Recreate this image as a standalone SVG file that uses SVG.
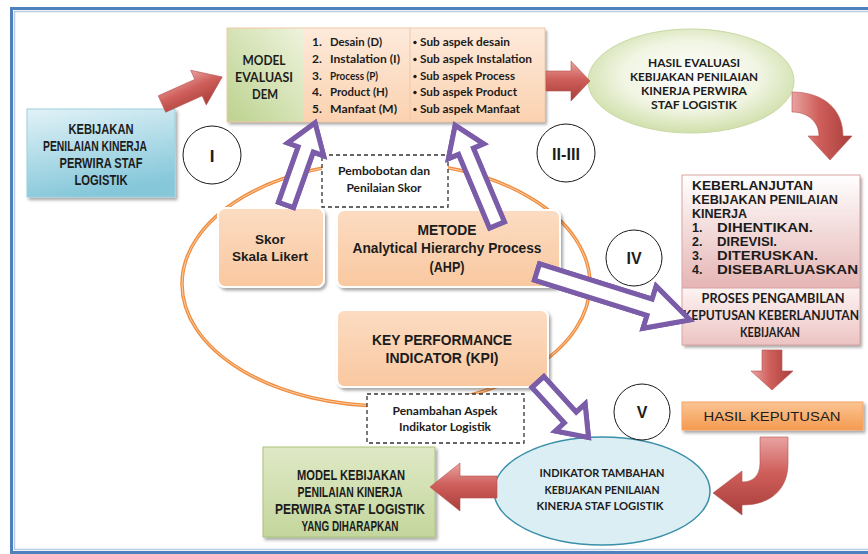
<svg xmlns="http://www.w3.org/2000/svg" xmlns:xlink="http://www.w3.org/1999/xlink" width="868" height="554" viewBox="0 0 868 554">
  <defs>
    <style>
      .cal { font-family: "Lato", "Open Sans", sans-serif; font-weight: bold; fill: #1c1c1c; }
      .ari { font-family: "Liberation Sans", Arial, sans-serif; font-weight: bold; fill: #1c1c1c; }
      .arn { font-family: "Liberation Sans", Arial, sans-serif; fill: #1c1c1c; }
      .nar { font-family: "Liberation Sans Narrow", "Liberation Sans", sans-serif; font-weight: bold; fill: #1c1c1c; }
      .mid { text-anchor: middle; }
      .circ { fill: #ffffff; stroke: #1a1a1a; stroke-width: 1; }
      .dash { fill: #ffffff; stroke: #333333; stroke-width: 1.3; stroke-dasharray: 4 3; }
      .peach { fill: url(#gPeach); stroke: #ffffff; stroke-width: 2; filter: url(#shadow); }
      .red { stroke: #b5524f; stroke-width: 0.6; }
      .purp { fill: #ffffff; stroke: #7a5ca8; stroke-width: 5; stroke-linejoin: miter; }
      .purpIn { fill: none; stroke: #ffffff; stroke-width: 1.5; stroke-linejoin: miter; }
    </style>
    <filter id="shadow" x="-10%" y="-10%" width="125%" height="130%">
      <feDropShadow dx="2" dy="2.5" stdDeviation="1.5" flood-color="#000000" flood-opacity="0.35"/>
    </filter>
    <linearGradient id="gBlue" x1="0" y1="0" x2="0.3" y2="1">
      <stop offset="0" stop-color="#e2f2f7"/>
      <stop offset="1" stop-color="#86c8da"/>
    </linearGradient>
    <linearGradient id="gGreen" x1="1" y1="0" x2="0" y2="1">
      <stop offset="0" stop-color="#eef3dc"/>
      <stop offset="1" stop-color="#bcd28f"/>
    </linearGradient>
    <linearGradient id="gDemPeach" x1="0" y1="0" x2="0" y2="1">
      <stop offset="0" stop-color="#fdeadb"/>
      <stop offset="1" stop-color="#fbd2b0"/>
    </linearGradient>
    <linearGradient id="gPeach" x1="0" y1="0" x2="0" y2="1">
      <stop offset="0" stop-color="#fcdcc2"/>
      <stop offset="1" stop-color="#f9c8a0"/>
    </linearGradient>
    <radialGradient id="gEval" cx="0.5" cy="0.45" r="0.6">
      <stop offset="0" stop-color="#ffffff"/>
      <stop offset="0.55" stop-color="#f1f5e3"/>
      <stop offset="1" stop-color="#c9db9f"/>
    </radialGradient>
    <linearGradient id="gPink" x1="0" y1="0" x2="0" y2="1">
      <stop offset="0" stop-color="#ffffff"/>
      <stop offset="1" stop-color="#e5b5b4"/>
    </linearGradient>
    <linearGradient id="gPink2" x1="0" y1="0" x2="0" y2="1">
      <stop offset="0" stop-color="#fdf3f3"/>
      <stop offset="1" stop-color="#ecc3c2"/>
    </linearGradient>
    <linearGradient id="gOrange" x1="0" y1="0" x2="0" y2="1">
      <stop offset="0" stop-color="#fbc493"/>
      <stop offset="1" stop-color="#f59a50"/>
    </linearGradient>
    <linearGradient id="gOlive" x1="0" y1="0" x2="0" y2="1">
      <stop offset="0" stop-color="#dfe9c6"/>
      <stop offset="1" stop-color="#c4d69c"/>
    </linearGradient>
    <linearGradient id="gRed" x1="0" y1="0" x2="0" y2="1">
      <stop offset="0" stop-color="#e8a3a1"/>
      <stop offset="0.45" stop-color="#cf5f5b"/>
      <stop offset="1" stop-color="#a83d3a"/>
    </linearGradient>
    <linearGradient id="gRedV" x1="0" y1="0" x2="1" y2="0">
      <stop offset="0" stop-color="#e8a3a1"/>
      <stop offset="0.45" stop-color="#cf5f5b"/>
      <stop offset="1" stop-color="#a83d3a"/>
    </linearGradient>
  </defs>

  <!-- page frame -->
  <rect x="11.5" y="8.5" width="870" height="544" fill="#ffffff" stroke="#4f81bd" stroke-width="3"/>
  <rect x="14.5" y="11.5" width="870" height="538" fill="none" stroke="#b8cce4" stroke-width="1.5"/>

  <!-- orange ring round the method boxes -->
  <ellipse cx="386" cy="284" rx="204" ry="122" fill="none" stroke="#f08c3e" stroke-width="3.5"/>
  <ellipse cx="386" cy="284" rx="204" ry="122" fill="none" stroke="#fbd0a8" stroke-width="1"/>

  <!-- nodes -->
  <g id="kebijakan">
    <rect x="27" y="109" width="148" height="88" fill="url(#gBlue)" stroke="#9ccfdd" stroke-width="1" filter="url(#shadow)"/>
    <text class="nar mid" font-size="14" x="101" y="134" textLength="65" lengthAdjust="spacingAndGlyphs">KEBIJAKAN</text>
    <text class="nar mid" font-size="14" x="95" y="151" textLength="104" lengthAdjust="spacingAndGlyphs">PENILAIAN KINERJA</text>
    <text class="nar mid" font-size="14" x="101" y="168" textLength="83" lengthAdjust="spacingAndGlyphs">PERWIRA STAF</text>
    <text class="nar mid" font-size="14" x="101" y="185" textLength="53" lengthAdjust="spacingAndGlyphs">LOGISTIK</text>
  </g>

  <g id="model-dem">
    <g filter="url(#shadow)">
      <rect x="227" y="28" width="76" height="94" fill="url(#gGreen)"/>
      <rect x="303" y="28" width="242" height="94" fill="url(#gDemPeach)"/>
    </g>
    <rect x="227" y="28" width="318" height="94" fill="none" stroke="#f2c9a6" stroke-width="1"/>
    <line x1="410" y1="28" x2="410" y2="122" stroke="#f0c8a8" stroke-width="1"/>
    <text class="cal mid" font-size="13" x="264" y="65" textLength="43" lengthAdjust="spacingAndGlyphs">MODEL</text>
    <text class="cal mid" font-size="13" x="264" y="82" textLength="58" lengthAdjust="spacingAndGlyphs">EVALUASI</text>
    <text class="cal mid" font-size="13" x="265" y="99" textLength="26" lengthAdjust="spacingAndGlyphs">DEM</text>
    <g class="cal" font-size="12">
      <text x="312" y="46">1.</text><text x="330" y="46" textLength="52" lengthAdjust="spacingAndGlyphs">Desain (D)</text>
      <text x="312" y="63">2.</text><text x="330" y="63" textLength="70" lengthAdjust="spacingAndGlyphs">Instalation (I)</text>
      <text x="312" y="80">3.</text><text x="330" y="80" textLength="48" lengthAdjust="spacingAndGlyphs">Process (P)</text>
      <text x="312" y="96">4.</text><text x="330" y="96" textLength="58" lengthAdjust="spacingAndGlyphs">Product (H)</text>
      <text x="312" y="113">5.</text><text x="330" y="113" textLength="67" lengthAdjust="spacingAndGlyphs">Manfaat (M)</text>
    </g>
    <g fill="#1c1c1c">
      <circle cx="415" cy="42.5" r="1.7"/>
      <circle cx="415" cy="59.5" r="1.7"/>
      <circle cx="415" cy="76.5" r="1.7"/>
      <circle cx="415" cy="92.5" r="1.7"/>
      <circle cx="415" cy="109.5" r="1.7"/>
    </g>
    <g class="cal" font-size="11.5">
      <text x="420" y="46" textLength="90" lengthAdjust="spacingAndGlyphs">Sub aspek desain</text>
      <text x="420" y="63" textLength="112" lengthAdjust="spacingAndGlyphs">Sub aspek Instalation</text>
      <text x="420" y="80" textLength="95" lengthAdjust="spacingAndGlyphs">Sub aspek Process</text>
      <text x="420" y="96" textLength="97" lengthAdjust="spacingAndGlyphs">Sub aspek Product</text>
      <text x="420" y="113" textLength="100" lengthAdjust="spacingAndGlyphs">Sub aspek Manfaat</text>
    </g>
  </g>

  <g id="hasil-evaluasi">
    <ellipse cx="691" cy="81" rx="103" ry="52" fill="url(#gEval)" stroke="#c8d9a4" stroke-width="1"/>
    <text class="cal mid" font-size="12" x="694" y="67" textLength="92" lengthAdjust="spacingAndGlyphs">HASIL EVALUASI</text>
    <text class="cal mid" font-size="12" x="694" y="81" textLength="128" lengthAdjust="spacingAndGlyphs">KEBIJAKAN PENILAIAN</text>
    <text class="cal mid" font-size="12" x="694" y="95" textLength="106" lengthAdjust="spacingAndGlyphs">KINERJA PERWIRA</text>
    <text class="cal mid" font-size="12" x="694" y="109" textLength="86" lengthAdjust="spacingAndGlyphs">STAF LOGISTIK</text>
  </g>

  <g id="keberlanjutan">
    <g filter="url(#shadow)">
      <rect x="682" y="175" width="178" height="113" fill="url(#gPink)"/>
      <rect x="682" y="288" width="178" height="57" fill="url(#gPink2)"/>
    </g>
    <rect x="682" y="175" width="178" height="170" fill="none" stroke="#d9a3a2" stroke-width="1"/>
    <line x1="682" y1="288" x2="860" y2="288" stroke="#d9a3a2" stroke-width="1"/>
    <g class="ari" font-size="12.5">
      <text x="692" y="190" textLength="121" lengthAdjust="spacingAndGlyphs">KEBERLANJUTAN</text>
      <text x="692" y="204" textLength="146" lengthAdjust="spacingAndGlyphs">KEBIJAKAN PENILAIAN</text>
      <text x="692" y="218" textLength="55" lengthAdjust="spacingAndGlyphs">KINERJA</text>
      <text x="692" y="232">1.</text><text x="717" y="232" textLength="96" lengthAdjust="spacingAndGlyphs">DIHENTIKAN.</text>
      <text x="692" y="246">2.</text><text x="717" y="246" textLength="60" lengthAdjust="spacingAndGlyphs">DIREVISI.</text>
      <text x="692" y="260">3.</text><text x="717" y="260" textLength="101" lengthAdjust="spacingAndGlyphs">DITERUSKAN.</text>
      <text x="692" y="274">4.</text><text x="717" y="274" textLength="141" lengthAdjust="spacingAndGlyphs">DISEBARLUASKAN</text>
    </g>
    <text class="cal mid" font-size="12.5" x="773" y="303" textLength="143" lengthAdjust="spacingAndGlyphs">PROSES PENGAMBILAN</text>
    <text class="cal mid" font-size="12.5" x="771" y="320" textLength="176" lengthAdjust="spacingAndGlyphs">KEPUTUSAN KEBERLANJUTAN</text>
    <text class="cal mid" font-size="12.5" x="770" y="337" textLength="60" lengthAdjust="spacingAndGlyphs">KEBIJAKAN</text>
  </g>

  <g id="hasil-keputusan">
    <rect x="682" y="402" width="181" height="28" fill="url(#gOrange)" stroke="#f3a466" stroke-width="1" filter="url(#shadow)"/>
    <text class="arn mid" font-size="13.5" x="772" y="421" textLength="137" lengthAdjust="spacingAndGlyphs">HASIL KEPUTUSAN</text>
  </g>

  <g id="indikator-tambahan">
    <ellipse cx="602" cy="491" rx="108" ry="54" fill="#dbeef4" stroke="#3a8fa8" stroke-width="1.5"/>
    <text class="cal mid" font-size="12" x="602" y="477" textLength="125" lengthAdjust="spacingAndGlyphs">INDIKATOR TAMBAHAN</text>
    <text class="cal mid" font-size="12" x="602" y="494" textLength="115" lengthAdjust="spacingAndGlyphs">KEBIJAKAN PENILAIAN</text>
    <text class="cal mid" font-size="12" x="600" y="510" textLength="127" lengthAdjust="spacingAndGlyphs">KINERJA STAF LOGISTIK</text>
  </g>

  <g id="model-kebijakan">
    <rect x="263" y="447" width="172" height="90" fill="url(#gOlive)" stroke="#a9c27a" stroke-width="1" filter="url(#shadow)"/>
    <text class="nar mid" font-size="14" x="351" y="480" textLength="108" lengthAdjust="spacingAndGlyphs">MODEL KEBIJAKAN</text>
    <text class="nar mid" font-size="14" x="350" y="497" textLength="105" lengthAdjust="spacingAndGlyphs">PENILAIAN KINERJA</text>
    <text class="nar mid" font-size="14" x="350" y="514" textLength="150" lengthAdjust="spacingAndGlyphs">PERWIRA STAF LOGISTIK</text>
    <text class="nar mid" font-size="14" x="350" y="531" textLength="97" lengthAdjust="spacingAndGlyphs">YANG DIHARAPKAN</text>
  </g>

  <g id="skor-likert">
    <rect class="peach" x="218" y="208" width="106" height="79" rx="7"/>
    <text class="ari mid" font-size="13.5" x="270" y="244" textLength="30" lengthAdjust="spacingAndGlyphs">Skor</text>
    <text class="ari mid" font-size="13.5" x="270" y="261" textLength="76" lengthAdjust="spacingAndGlyphs">Skala Likert</text>
  </g>

  <g id="metode-ahp">
    <rect class="peach" x="337" y="210" width="223" height="77" rx="7"/>
    <text class="ari mid" font-size="13.8" x="447" y="235" textLength="59" lengthAdjust="spacingAndGlyphs">METODE</text>
    <text class="ari mid" font-size="13.8" x="447" y="253" textLength="189" lengthAdjust="spacingAndGlyphs">Analytical Hierarchy Process</text>
    <text class="ari mid" font-size="13.8" x="447" y="272" textLength="35" lengthAdjust="spacingAndGlyphs">(AHP)</text>
  </g>

  <g id="kpi">
    <rect class="peach" x="337" y="310" width="211" height="77" rx="7"/>
    <text class="ari mid" font-size="13.8" x="442" y="345" textLength="140" lengthAdjust="spacingAndGlyphs">KEY PERFORMANCE</text>
    <text class="ari mid" font-size="13.8" x="442" y="363" textLength="113" lengthAdjust="spacingAndGlyphs">INDICATOR (KPI)</text>
  </g>

  <g id="pembobotan">
    <rect class="dash" x="322" y="155" width="126" height="52"/>
    <text class="cal mid" font-size="11.5" x="384" y="175" textLength="92" lengthAdjust="spacingAndGlyphs">Pembobotan dan</text>
    <text class="cal mid" font-size="11.5" x="384" y="192" textLength="75" lengthAdjust="spacingAndGlyphs">Penilaian Skor</text>
  </g>

  <g id="penambahan">
    <rect class="dash" x="367" y="394" width="157" height="49"/>
    <text class="cal mid" font-size="11.5" x="445" y="415" textLength="105" lengthAdjust="spacingAndGlyphs">Penambahan Aspek</text>
    <text class="cal mid" font-size="11.5" x="445" y="431" textLength="92" lengthAdjust="spacingAndGlyphs">Indikator Logistik</text>
  </g>

  <g id="step-I">
    <circle class="circ" cx="212" cy="155" r="29"/>
    <text class="nar mid" font-size="17" x="212" y="162">I</text>
  </g>
  <g id="step-II-III">
    <circle class="circ" cx="566" cy="153" r="29"/>
    <text class="nar mid" font-size="16" x="566" y="160" textLength="28" lengthAdjust="spacingAndGlyphs">II-III</text>
  </g>
  <g id="step-IV">
    <circle class="circ" cx="634" cy="258" r="28"/>
    <text class="nar mid" font-size="16" x="634" y="264">IV</text>
  </g>
  <g id="step-V">
    <circle class="circ" cx="642" cy="412" r="28"/>
    <text class="nar mid" font-size="16" x="642" y="418">V</text>
  </g>

  <!-- connectors -->
  <g id="connectors">
    <!-- block arrows, red -->
    <path class="red" fill="url(#gRed)" transform="translate(162,104) rotate(-24.2)" d="M0,-9 L40,-9 L40,-19 L66,0 L40,19 L40,9 L0,9 Z"/>
    <path class="red" fill="url(#gRed)" d="M546,71 L571,71 L571,61 L590,81 L571,101 L571,91 L546,91 Z"/>
    <path class="red" fill="url(#gRedV)" d="M792,92 C822,92 843,108 843,136 L852,136 L830,160 L808,136 L819,136 C819,122 808,112 792,112 Z"/>
    <path class="red" fill="url(#gRedV)" d="M762,350 L782,350 L782,371 L793,371 L772,390 L751,371 L762,371 Z"/>
    <path class="red" fill="url(#gRed)" d="M760,437 L788,437 L788,463 C788,490 770,505 742,505 L742,515 L713,493 L742,471 L742,482 C754,482 760,475 760,463 Z"/>
    <path class="red" fill="url(#gRed)" d="M497,476 L460,476 L460,463 L430,487 L460,511 L460,498 L497,498 Z"/>

    <!-- hollow arrows, purple -->
    <g transform="translate(286,205) rotate(-70.5)">
      <path id="pa1" class="purp" d="M0,-8 L59,-8 L59,-19 L87,0 L59,19 L59,8 L0,8 Z"/>
      <use xlink:href="#pa1" class="purpIn"/>
    </g>
    <g transform="translate(497,225) rotate(-112.8)">
      <path id="pa2" class="purp" d="M0,-8 L80,-8 L80,-19 L108,0 L80,19 L80,8 L0,8 Z"/>
      <use xlink:href="#pa2" class="purpIn"/>
    </g>
    <g transform="translate(537,272) rotate(17.4)">
      <path id="pa3" class="purp" d="M0,-8.5 L118,-8.5 L118,-22 L160,0 L118,22 L118,8.5 L0,8.5 Z"/>
      <use xlink:href="#pa3" class="purpIn"/>
    </g>
    <g transform="translate(538,382) rotate(47.7)">
      <path id="pa4" class="purp" d="M0,-8 L48,-8 L48,-20 L75,0 L48,20 L48,8 L0,8 Z"/>
      <use xlink:href="#pa4" class="purpIn"/>
    </g>
  </g>
</svg>
